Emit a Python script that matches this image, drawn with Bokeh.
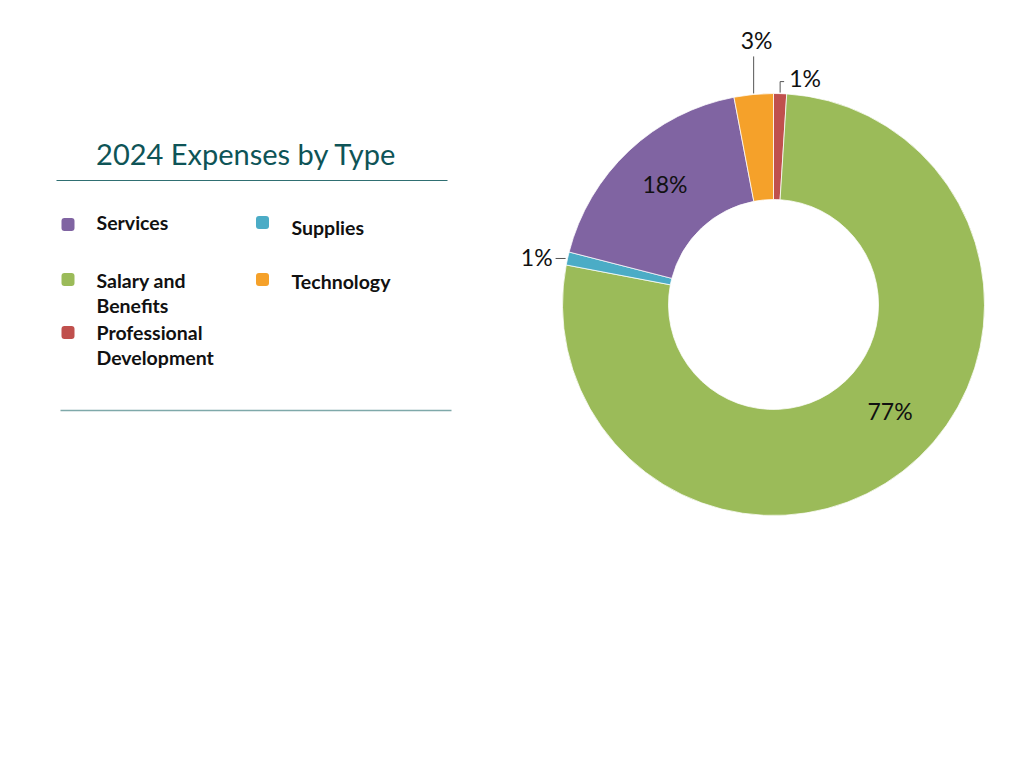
import math
from bokeh.plotting import figure
from bokeh.models import Range1d
from bokeh.core.properties import value
from bokeh.embed import file_html
from bokeh.resources import INLINE

# ---- data ----
categories = ["Professional Development", "Salary and Benefits", "Supplies", "Services", "Technology"]
shares = [1, 77, 1, 18, 3]
colors = ["#C0504D", "#9BBB59", "#4BACC6", "#8064A2", "#F5A12A"]
label_texts = ["1%", "77%", "1%", "18%", "3%"]
label_inside = [False, True, False, True, False]
legend_order = ["Services", "Supplies", "Salary and\nBenefits", "Technology", "Professional\nDevelopment"]
legend_colors = ["#8064A2", "#4BACC6", "#9BBB59", "#F5A12A", "#C0504D"]
title = "2024 Expenses by Type"

W, H = 1016, 760
FONT = "Lato"

def px(X, Y):
    return X, H - Y

p = figure(width=W, height=H, x_range=Range1d(0, W), y_range=Range1d(0, H),
           output_backend="svg", toolbar_location=None, min_border=0)
p.axis.visible = False
p.grid.visible = False
p.outline_line_color = None
p.background_fill_color = "white"

# ---- donut ----
cx, cy = px(773, 304)
R_out, R_in = 211, 105
total = float(sum(shares))
starts, ends, mids = [], [], []
a = math.pi / 2
for s in shares:
    span = 2 * math.pi * s / total
    starts.append(a)
    ends.append(a - span)
    mids.append(a - span / 2)
    a -= span

p.annular_wedge(x=cx, y=cy, inner_radius=R_in, outer_radius=R_out,
                start_angle=ends, end_angle=starts, direction="anticlock",
                fill_color=colors, line_color="white", line_width=0.75)

# inside labels (label angle nudges mimic the original label placement)
label_nudge = [0.0, 0.17, 0.0, -0.02, 0.0]
label_rad = [0, 158, 0, 162, 0]
for txt, m, inside, dn, rr in zip(label_texts, mids, label_inside, label_nudge, label_rad):
    if inside:
        mm = m + dn
        p.text(x=[cx + rr * math.cos(mm)], y=[cy + rr * math.sin(mm)], text=[txt],
               text_font=value(FONT), text_font_size="23px", text_color="#111111",
               text_align="center", text_baseline="middle")

# outside labels with leader lines
for i, (txt, m, inside) in enumerate(zip(label_texts, mids, label_inside)):
    if inside:
        continue
    ex, ey = cx + R_out * math.cos(m), cy + R_out * math.sin(m)
    c = math.cos(m)
    if abs(c) > 0.5:  # side label (left)
        x2 = ex - 12
        p.segment(x0=[ex - 2], y0=[ey], x1=[x2], y1=[ey], line_color="#555555", line_width=1)
        p.text(x=[x2 - 3], y=[ey + 1], text=[txt], text_font=value(FONT), text_font_size="23px",
               text_color="#111111", text_align="right", text_baseline="middle")
    elif shares[i] >= 2:  # straight up
        y2 = ey + 38
        p.segment(x0=[ex], y0=[ey + 1], x1=[ex], y1=[y2], line_color="#555555", line_width=1)
        p.text(x=[ex + 3], y=[y2 + 2], text=[txt], text_font=value(FONT), text_font_size="23px",
               text_color="#111111", text_align="center", text_baseline="bottom")
    else:  # short hook up and right
        y2 = ey + 12
        p.segment(x0=[ex, ex], y0=[ey + 1, y2], x1=[ex, ex + 4], y1=[y2, y2],
                  line_color="#555555", line_width=1)
        p.text(x=[ex + 9], y=[y2 + 4], text=[txt], text_font=value(FONT), text_font_size="23px",
               text_color="#111111", text_align="left", text_baseline="middle")

# ---- title & rules ----
tx, ty = px(246, 153)
p.text(x=[tx], y=[ty], text=[title], text_font=value(FONT), text_font_size="29px",
       text_color="#0E5457", text_align="center", text_baseline="middle")
x0, y0 = px(56, 180); x1, _ = px(447, 180)
p.segment(x0=[x0], y0=[y0], x1=[x1], y1=[y0], line_color="#2F6F72", line_width=1.2)
x0, y0 = px(60, 410); x1, _ = px(451, 410)
p.segment(x0=[x0], y0=[y0], x1=[x1], y1=[y0], line_color="#7FA9AA", line_width=1.5)

# ---- legend ----
marker_pos = [(67.5, 224), (262, 222), (67.5, 279), (262, 279), (67.5, 332)]
text_pos = [(96, 222), (291, 227), (96, 292.5), (291, 281), (96, 344.5)]
half = 6.5
for lab, col, (mx, my), (lx, ly) in zip(legend_order, legend_colors, marker_pos, text_pos):
    X, Y = px(mx, my)
    p.quad(left=[X - half], right=[X + half], top=[Y + half], bottom=[Y - half],
           fill_color=col, line_color=None, border_radius=3)
    X, Y = px(lx, ly)
    p.text(x=[X], y=[Y], text=[lab], text_font=value(FONT), text_font_size="19.5px",
           text_font_style="bold", text_color="#111111", text_align="left",
           text_baseline="middle", text_line_height=1.05)

open("out.html", "w").write(file_html(p, INLINE))
